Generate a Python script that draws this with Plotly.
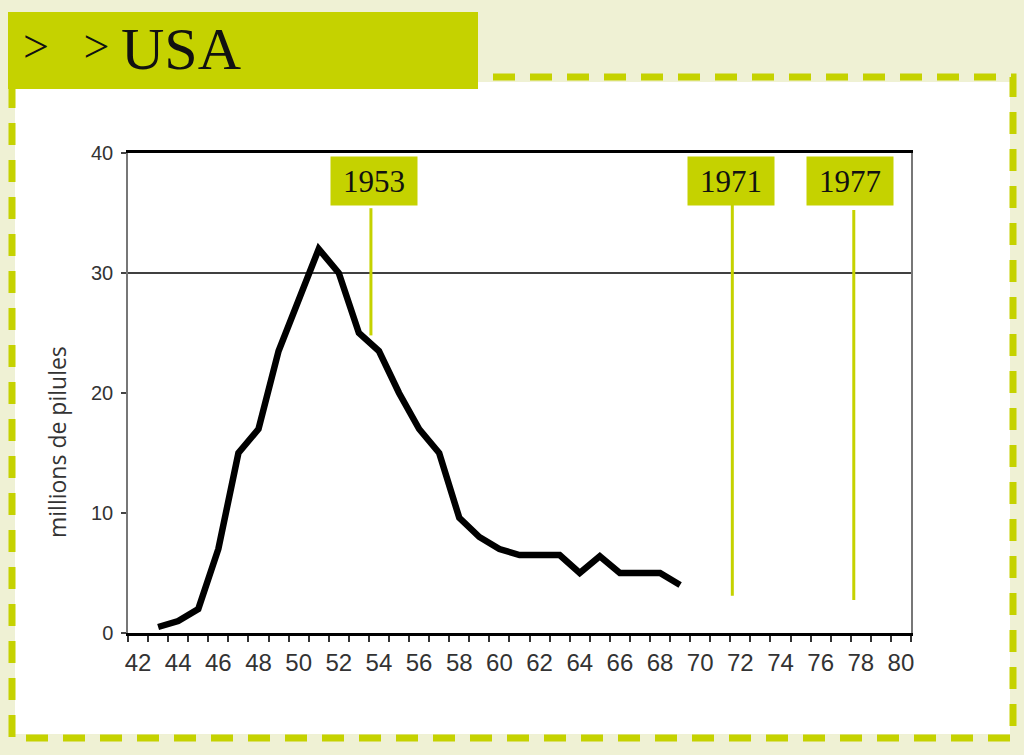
import plotly.graph_objects as go

# ---- data ----
years = [43, 44, 45, 46, 47, 48, 49, 50, 51, 52, 53, 54, 55, 56, 57, 58, 59,
         60, 61, 62, 63, 64, 65, 66, 67, 68, 69]
pills = [0.5, 1.0, 2.0, 7.0, 15.0, 17.0, 23.5, 27.8, 32.0, 30.0, 25.0, 23.5,
         20.0, 17.0, 15.0, 9.6, 8.0, 7.0, 6.5, 6.5, 6.5, 5.0, 6.4, 5.0, 5.0, 5.0, 4.0]

event_labels = ["1953", "1971", "1977"]
event_x = [53.6, 71.6, 77.65]
event_top = [35.4, 35.7, 35.25]
event_bottom = [24.8, 3.1, 2.75]
event_label_x = [53.75, 71.55, 77.45]
event_label_y = [37.65, 37.7, 37.65]

x_tick_vals = list(range(42, 81, 2))
x_tick_text = [str(v) for v in x_tick_vals]
y_tick_vals = [0, 10, 20, 30, 40]
y_tick_text = ["0", "10", "20", "30", "40"]
title_marks = "&gt;\u00a0\u00a0\u00a0&gt;"
title_word = "USA"
y_title = "millions de pilules"

# ---- style ----
GREEN = "#c5d200"
CREAM = "#eff1d4"
W, H = 1024, 755
L, R, T, B = 128, 911, 153, 633  # plot area in pixels


def px(xp):
    return (xp - L) / (R - L)


def py(yp):
    return (B - yp) / (B - T)


fig = go.Figure()

fig.add_trace(go.Scatter(x=years, y=pills, mode="lines",
                         line=dict(color="black", width=6.5),
                         hoverinfo="skip", showlegend=False))

for xv, yt, yb in zip(event_x, event_top, event_bottom):
    fig.add_trace(go.Scatter(x=[xv, xv], y=[yb, yt], mode="lines",
                             line=dict(color=GREEN, width=3),
                             hoverinfo="skip", showlegend=False))

shapes = [
    # white panel
    dict(type="rect", xref="paper", yref="paper", layer="below",
         x0=px(15), x1=px(1010), y0=py(82), y1=py(734),
         fillcolor="white", line=dict(width=0)),
    # dashed frame
    dict(type="rect", xref="paper", yref="paper", layer="below",
         x0=px(12), x1=px(1013), y0=py(77), y1=py(738),
         fillcolor="rgba(0,0,0,0)",
         line=dict(color=GREEN, width=7, dash="22px,15px")),
    # title box
    dict(type="rect", xref="paper", yref="paper", layer="below",
         x0=px(8), x1=px(478), y0=py(12), y1=py(89),
         fillcolor=GREEN, line=dict(width=0)),
    # line at 30
    dict(type="line", xref="paper", yref="y", layer="below",
         x0=0, x1=1, y0=30, y1=30, line=dict(color="black", width=1.5)),
]

SERIF = "Liberation Serif, DejaVu Serif, serif"
annotations = [
    dict(text=title_marks, xref="paper", yref="paper", x=px(21), y=py(46),
         xanchor="left", yanchor="middle", showarrow=False,
         font=dict(family=SERIF, size=46, color="#111")),
    dict(text=title_word, xref="paper", yref="paper", x=px(119), y=py(49),
         xanchor="left", yanchor="middle", showarrow=False,
         font=dict(family=SERIF, size=60, color="#111")),
    dict(text=y_title, xref="paper", yref="paper", x=px(57), y=py(442),
         xanchor="center", yanchor="middle", textangle=-90, showarrow=False,
         font=dict(family="Open Sans, Noto Sans, sans-serif", size=23, color="#333")),
]
for lab, xv, yv in zip(event_labels, event_label_x, event_label_y):
    annotations.append(dict(text=lab, xref="x", yref="y", x=xv, y=yv,
                            xanchor="center", yanchor="middle", showarrow=False,
                            bgcolor=GREEN, width=86, height=48, borderpad=0,
                            font=dict(family=SERIF, size=31, color="#111")))

fig.update_layout(
    width=W, height=H,
    margin=dict(l=L, r=W - R, t=T, b=H - B, pad=0),
    paper_bgcolor=CREAM, plot_bgcolor="rgba(0,0,0,0)",
    shapes=shapes, annotations=annotations, showlegend=False,
    xaxis=dict(range=[41.5, 80.5], tickmode="array", tickvals=x_tick_vals,
               ticktext=x_tick_text, ticks="", showgrid=False, zeroline=False,
               showline=True, linecolor="black", linewidth=2.5, mirror=True,
               ticklabelstandoff=6,
               tickfont=dict(family="Liberation Sans Narrow, Liberation Sans, Arial, sans-serif",
                             size=24, color="#333"),
               minor=dict(tickvals=[41.5 + i for i in range(40)], ticks="outside",
                          ticklen=6, tickwidth=1.5, tickcolor="#333", showgrid=False)),
    yaxis=dict(range=[0, 40], tickmode="array", tickvals=y_tick_vals,
               ticktext=y_tick_text, ticks="outside", ticklen=5, tickcolor="#444",
               tickwidth=1.5, showgrid=False, zeroline=False, showline=True,
               linecolor="#777", linewidth=1.5, mirror=True,
               ticklabelstandoff=4,
               tickfont=dict(family="Liberation Sans, Arial, sans-serif", size=20, color="#333")),
)

fig.write_html("out.html")
